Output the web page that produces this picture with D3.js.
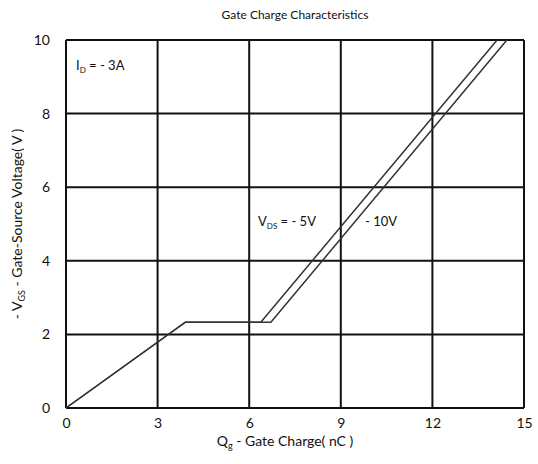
<!DOCTYPE html>
<html>
<head>
<meta charset="utf-8">
<script src="https://cdn.jsdelivr.net/npm/d3@7"></script>
<style>
  body { margin: 0; background: #fff; }
  svg text { font-family: Lato, "Open Sans", sans-serif; fill: #111; }
</style>
</head>
<body>
<div id="chart"></div>
<script>
// gate charge curves
var qg5 = [0, 3.91, 6.38, 14.12],
    vgs5 = [0, 2.33, 2.33, 10];
var qg10 = [0, 3.91, 6.71, 14.44],
    vgs10 = [0, 2.33, 2.33, 10];
var xTicks = [0, 3, 6, 9, 12, 15],
    yTicks = [0, 2, 4, 6, 8, 10];

var width = 538, height = 464;
var margin = {top: 40, right: 14, bottom: 56, left: 66};

var svg = d3.select('#chart').append('svg')
    .attr('width', width)
    .attr('height', height);

var x = d3.scaleLinear().domain([0, 15]).range([margin.left, width - margin.right]);
var y = d3.scaleLinear().domain([0, 10]).range([height - margin.bottom, margin.top]);

// grid
svg.append('g').selectAll('line').data(xTicks).enter().append('line')
    .attr('x1', function(d) { return x(d); })
    .attr('x2', function(d) { return x(d); })
    .attr('y1', y(0)).attr('y2', y(10))
    .attr('stroke', '#111').attr('stroke-width', 2);
svg.append('g').selectAll('line').data(yTicks).enter().append('line')
    .attr('y1', function(d) { return y(d); })
    .attr('y2', function(d) { return y(d); })
    .attr('x1', x(0)).attr('x2', x(15))
    .attr('stroke', '#111').attr('stroke-width', 2);

// axes labels
var xAxis = d3.axisBottom(x).tickValues(xTicks).tickSize(0).tickPadding(10);
var gx = svg.append('g').attr('transform', 'translate(0,' + y(0) + ')').call(xAxis);
gx.select('.domain').remove();
gx.selectAll('text').style('font-size', '14px');

var yAxis = d3.axisLeft(y).tickValues(yTicks).tickSize(0).tickPadding(16);
var gy = svg.append('g').attr('transform', 'translate(' + x(0) + ',0)').call(yAxis);
gy.select('.domain').remove();
gy.selectAll('text').style('font-size', '14px');

// curves
var line = d3.line()
    .x(function(d) { return x(d[0]); })
    .y(function(d) { return y(d[1]); });

[[qg5, vgs5], [qg10, vgs10]].forEach(function(s) {
    var pts = s[0].map(function(q, i) { return [q, s[1][i]]; });
    svg.append('path')
        .attr('d', line(pts))
        .attr('fill', 'none')
        .attr('stroke', '#333')
        .attr('stroke-width', 1.5);
});

// title
svg.append('text')
    .attr('x', (x(0) + x(15)) / 2).attr('y', 19)
    .attr('text-anchor', 'middle')
    .style('font-size', '12px')
    .text('Gate Charge Characteristics');

// x label
var xl = svg.append('text')
    .attr('x', (x(0) + x(15)) / 2 - 10).attr('y', 446)
    .attr('text-anchor', 'middle')
    .style('font-size', '14px');
xl.append('tspan').text('Q');
xl.append('tspan').attr('dy', 3).style('font-size', '9px').text('g');
xl.append('tspan').attr('dy', -3).text(' - Gate Charge( nC )');

// y label
var yl = svg.append('text')
    .attr('transform', 'translate(22,' + ((y(0) + y(10)) / 2) + ') rotate(-90)')
    .attr('text-anchor', 'middle')
    .style('font-size', '14px');
yl.append('tspan').text('- V');
yl.append('tspan').attr('dy', 3).style('font-size', '9px').text('GS');
yl.append('tspan').attr('dy', -3).text(' - Gate-Source Voltage( V )');

// annotations
var id = svg.append('text').attr('x', x(0) + 10).attr('y', 70).style('font-size', '13px');
id.append('tspan').text('I');
id.append('tspan').attr('dy', 3).style('font-size', '8px').text('D');
id.append('tspan').attr('dy', -3).text(' = - 3A');

var vds = svg.append('text').attr('x', 258).attr('y', 226).style('font-size', '13px');
vds.append('tspan').text('V');
vds.append('tspan').attr('dy', 3).style('font-size', '8px').text('DS');
vds.append('tspan').attr('dy', -3).text('  = - 5V');

svg.append('text').attr('x', 365).attr('y', 226).style('font-size', '13px').text('- 10V');
</script>
</body>
</html>
